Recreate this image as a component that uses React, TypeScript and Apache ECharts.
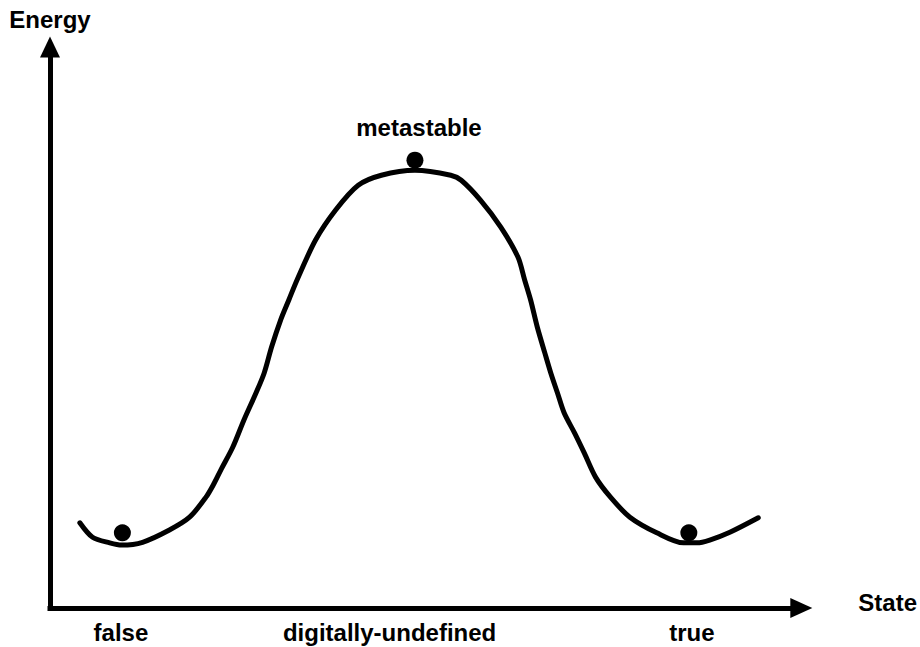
import React, { useEffect, useRef } from "react";
import * as echarts from "echarts";

// Energy landscape of a bistable element (arbitrary units, 0–100 on each axis)
const stateX: number[] = [
  4.0, 5.7, 8.0, 9.6, 12.4, 16.0, 18.7, 20.9, 22.0, 22.9, 24.5, 26.0, 27.6, 28.7,
  29.7, 30.9, 32.0, 33.1, 35.6, 38.3, 41.3, 44.4, 48.9, 53.7, 55.1, 57.7, 60.4,
  62.7, 63.6, 64.4, 65.3, 66.3, 67.1, 68.0, 68.9, 70.3, 71.6, 73.1, 75.1, 77.7,
  81.3, 84.9, 86.7, 88.4, 91.1, 94.9,
];
const energyY: number[] = [
  15.3, 12.7, 11.7, 11.3, 11.8, 14.0, 16.3, 19.9, 22.4, 24.8, 28.9, 33.8, 38.6, 42.2,
  46.9, 51.7, 55.3, 58.9, 66.1, 71.5, 75.9, 77.7, 78.6, 77.7, 76.8, 73.2, 68.4,
  63.0, 58.9, 55.3, 50.4, 45.8, 42.2, 38.6, 35.0, 31.4, 27.8, 23.5, 19.9, 16.3,
  13.5, 11.7, 11.7, 12.2, 13.6, 16.2,
];

// Resting states (balls)
const ballX: number[] = [9.7, 48.9, 85.6];
const ballY: number[] = [13.5, 80.4, 13.5];
const ballLabels: string[] = ["", "metastable", ""];

// State axis labels
const tickPositions: number[] = [9.5, 45.5, 86];
const tickLabels: string[] = ["false", "digitally-undefined", "true"];

const FONT = "'Liberation Sans', Arial, Helvetica, sans-serif";

export default function App() {
  const ref = useRef<HTMLDivElement>(null);

  useEffect(() => {
    if (!ref.current) return;
    const chart = echarts.init(ref.current, undefined, { renderer: "svg" });

    const curve = stateX.map((x, i) => [x, energyY[i]]);
    const balls = ballX.map((x, i) => {
      const item: any = { value: [x, ballY[i]] };
      if (ballLabels[i]) {
        item.label = {
          show: true,
          position: "top",
          distance: 12,
          offset: [4, 0],
          formatter: ballLabels[i],
          color: "#000",
          fontFamily: FONT,
          fontWeight: "bold",
          fontSize: 24,
        };
      }
      return item;
    });

    chart.setOption({
      animation: false,
      backgroundColor: "#ffffff",
      grid: { left: 50, right: 120, top: 51, bottom: 39, containLabel: false },
      xAxis: {
        type: "value",
        min: 0,
        max: 100,
        name: "State",
        nameLocation: "end",
        nameGap: 62,
        nameTextStyle: {
          color: "#000",
          fontFamily: FONT,
          fontWeight: "bold",
          fontSize: 24,
          verticalAlign: "bottom",
          lineHeight: 12,
        },
        axisLine: {
          show: true,
          symbol: ["none", "triangle"],
          symbolSize: [20, 22],
          symbolOffset: [0, 5],
          lineStyle: { color: "#000", width: 5, cap: "square" },
        },
        axisTick: { show: false },
        splitLine: { show: false },
        axisLabel: {
          show: true,
          customValues: tickPositions,
          formatter: (v: number) => {
            const idx = tickPositions.indexOf(v);
            return idx >= 0 ? tickLabels[idx] : "";
          },
          margin: 12,
          color: "#000",
          fontFamily: FONT,
          fontWeight: "bold",
          fontSize: 24,
        },
      },
      yAxis: {
        type: "value",
        min: 0,
        max: 100,
        name: "Energy",
        nameLocation: "end",
        nameGap: 20,
        nameTextStyle: {
          color: "#000",
          fontFamily: FONT,
          fontWeight: "bold",
          fontSize: 24,
        },
        axisLine: {
          show: true,
          symbol: ["none", "triangle"],
          symbolSize: [20, 21],
          symbolOffset: [0, 4],
          lineStyle: { color: "#000", width: 5, cap: "square" },
        },
        axisTick: { show: false },
        axisLabel: { show: false },
        splitLine: { show: false },
      },
      series: [
        {
          type: "line",
          data: curve,
          smooth: 0.3,
          showSymbol: false,
          lineStyle: { color: "#000", width: 5, cap: "round", join: "round" },
          z: 2,
        },
        {
          type: "scatter",
          data: balls,
          symbol: "circle",
          symbolSize: 17,
          itemStyle: { color: "#000", opacity: 1 },
          z: 3,
        },
      ],
    });

    return () => chart.dispose();
  }, []);

  return (
    <div
      ref={ref}
      style={{ position: "fixed", left: 0, top: 0, width: 920, height: 647, background: "#fff" }}
    />
  );
}
